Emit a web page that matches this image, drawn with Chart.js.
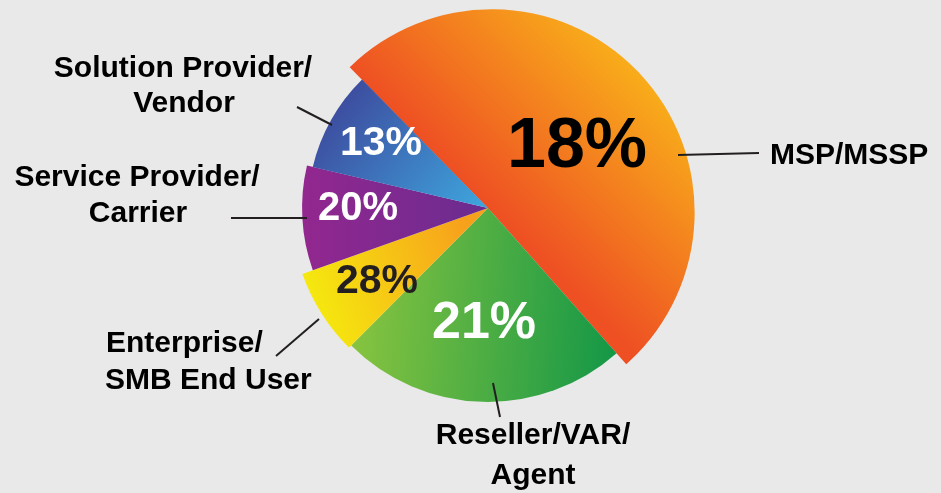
<!DOCTYPE html>
<html>
<head>
<meta charset="utf-8">
<script src="https://cdn.jsdelivr.net/npm/chart.js@4"></script>
<style>
  html, body { margin: 0; padding: 0; background: #e9e9ea; }
  #wrap { width: 941px; height: 493px; position: relative; }
</style>
</head>
<body>
<div id="wrap"><canvas id="pie"></canvas></div>
<script>
// Data: slice sizes are the drawn angles, labels are the printed figures
const categories = ["MSP/MSSP", "Reseller/VAR/ Agent", "Enterprise/ SMB End User", "Service Provider/ Carrier", "Solution Provider/ Vendor"];
const sliceShares = [50.8, 24.0, 7.1, 9.1, 9.0];
const percentLabels = ["18%", "21%", "28%", "20%", "13%"];
const categoryLines = [["MSP/MSSP"], ["Reseller/VAR/", "Agent"], ["Enterprise/", "SMB End User"], ["Service Provider/", "Carrier"], ["Solution Provider/", "Vendor"]];

// styling
const sliceScale = [0.99, 0.946, 0.961, 0.907, 0.878];   // slices stick out by different amounts
const sliceShift = [[3.7, 4.2], [0, 0], [0, 0], [0, 0], [0, 0]];
const gradients = [
    [[0, 0], [150, -150], "#ee4f23", "#f9b11a"],
    [[-150, 130], [130, 150], "#8dc63f", "#139747"],
    [[-190, 80], [-20, 20], "#f5ec0e", "#f7a01c"],
    [[-190, 0], [0, 0], "#93278f", "#6a2c90"],
    [[-140, -110], [-10, 0], "#3d4fa1", "#3ea3dc"]
];
const pctStyle = [
    { dx: 89, dy: -60, size: 70, color: "#000" },
    { dx: -4, dy: 116, size: 52, color: "#fff" },
    { dx: -111, dy: 74, size: 41, color: "#231f20" },
    { dx: -130, dy: 1, size: 40, color: "#fff" },
    { dx: -107, dy: -64, size: 41, color: "#fff" }
];
// label anchor offsets from the pie centre: leader line ends and text lines
const labelStyle = [
    { line: [[190, -53], [271, -55]], align: "left", text: [[282, -52]] },
    { line: [[5, 175], [12, 209]], align: "center", text: [[45, 228], [45, 268]] },
    { line: [[-169, 111], [-212, 148]], align: "left", text: [[-382, 136], [-383, 173]] },
    { line: [[-181, 10], [-257, 10]], align: "center", text: [[-351, -30], [-350, 6]] },
    { line: [[-156, -83], [-191, -101]], align: "center", text: [[-305, -139], [-304, -104]] }
];
const FONT = "'Liberation Sans', Arial, sans-serif";

function pieCentre(chart) {
    const area = chart.chartArea;
    return [(area.left + area.right) / 2, (area.top + area.bottom) / 2];
}

function sliceFill(ctx) {
    const chart = ctx.chart;
    if (!chart.chartArea) return "#f47a20";
    const [cx, cy] = pieCentre(chart);
    const g = gradients[ctx.dataIndex];
    const grad = chart.ctx.createLinearGradient(cx + g[0][0], cy + g[0][1], cx + g[1][0], cy + g[1][1]);
    grad.addColorStop(0, g[2]);
    grad.addColorStop(1, g[3]);
    return grad;
}

const radiusPlugin = {
    id: "sliceRadius",
    afterUpdate(chart) {
        const meta = chart.getDatasetMeta(0);
        const [cx, cy] = pieCentre(chart);
        meta.data.forEach((arc, i) => {
            if (!arc.baseRadius) arc.baseRadius = arc.outerRadius;
            arc.outerRadius = arc.baseRadius * sliceScale[i];
            arc.x = cx + sliceShift[i][0];
            arc.y = cy + sliceShift[i][1];
        });
    }
};

const labelPlugin = {
    id: "pieLabels",
    afterDatasetsDraw(chart) {
        const c = chart.ctx;
        const [cx, cy] = pieCentre(chart);
        c.save();
        c.textBaseline = "middle";
        // percentages inside the slices
        percentLabels.forEach((txt, i) => {
            const s = pctStyle[i];
            c.font = "bold " + s.size + "px " + FONT;
            c.fillStyle = s.color;
            c.textAlign = "center";
            c.fillText(txt, cx + s.dx, cy + s.dy);
        });
        // category names with leader lines
        c.strokeStyle = "#231f20";
        c.lineWidth = 2;
        c.fillStyle = "#000";
        c.font = "bold 30px " + FONT;
        categoryLines.forEach((lines, i) => {
            const s = labelStyle[i];
            c.beginPath();
            c.moveTo(cx + s.line[0][0], cy + s.line[0][1]);
            c.lineTo(cx + s.line[1][0], cy + s.line[1][1]);
            c.stroke();
            c.textAlign = s.align;
            lines.forEach((t, j) => {
                c.fillText(t, cx + s.text[j][0], cy + s.text[j][1]);
            });
        });
        c.restore();
    }
};

window.addEventListener("DOMContentLoaded", () => {
    const ctx = document.getElementById("pie").getContext("2d");
    new Chart(ctx, {
        type: "pie",
        data: {
            labels: categories,
            datasets: [{
                data: sliceShares,
                backgroundColor: sliceFill,
                borderWidth: 0,
                hoverOffset: 0
            }]
        },
        options: {
            responsive: true,
            maintainAspectRatio: false,
            animation: false,
            rotation: -44.4,
            layout: { padding: { left: 235, right: 200, top: 3, bottom: 80 } },
            plugins: {
                legend: { display: false },
                tooltip: { enabled: false }
            },
            events: []
        },
        plugins: [radiusPlugin, labelPlugin]
    });
});
</script>
</body>
</html>
